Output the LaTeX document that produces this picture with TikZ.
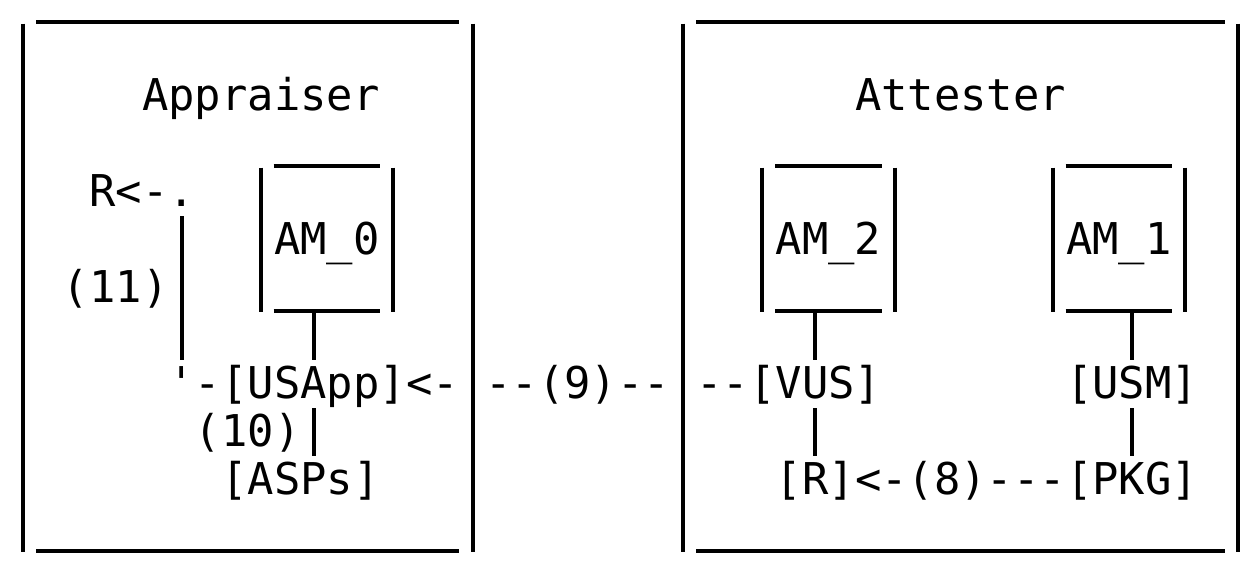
\documentclass[tikz,border=0pt]{standalone}
\usepackage{fontspec}
\setmonofont{DejaVu Sans Mono}
\usetikzlibrary{calc}

\newcommand{\asciisize}{\fontsize{21.9pt}{24pt}\selectfont}
\tikzset{
	txt/.style={font=\asciisize\ttfamily, inner sep=0pt, text height=17pt, text depth=3pt, minimum height=24pt},
	ambox/.style={txt, minimum width=66pt, minimum height=72pt},
	outerbox/.style={inner sep=0pt, minimum width=#1, minimum height=264pt},
	bar/.style={line width=2pt},
	under/.style={line width=1.8pt},
}
\newcommand{\asciibox}[1]{%
	\draw[bar] (#1.north west) -- (#1.south west);
	\draw[bar] (#1.north east) -- (#1.south east);
	\draw[under] ($(#1.north west)+(0.5,-0.031)$) -- ($(#1.north east)+(-0.5,-0.031)$);
	\draw[under] ($(#1.south west)+(0.5,-0.031)$) -- ($(#1.south east)+(-0.5,-0.031)$);
}

\begin{document}
\begin{tikzpicture}[x=13.2pt, y=-24pt]
	\useasboundingbox (-0.8826,0) rectangle (46.466,11.896);
	
	\node[outerbox=224.4pt] (appbox) at (8.5,6) {};
	\node[outerbox=277.2pt] (attbox) at (35.5,6) {};
	\asciibox{appbox}
	\asciibox{attbox}
	
	\node[txt] (appraiser) at (9,2) {Appraiser};
	\node[txt] (attester) at (35.5,2) {Attester};
	
	\node[ambox] (am0) at (11.5,5) {AM\_0};
	\node[ambox] (am2) at (30.5,5) {AM\_2};
	\node[ambox] (am1) at (41.5,5) {AM\_1};
	\asciibox{am0}
	\asciibox{am2}
	\asciibox{am1}
	
	\node[txt] (rapp) at (3,4) {R};
	\node[txt] (a11) at (5,4) {<-.};
	\node[txt] (l11) at (3.5,6) {(11)};
	\node[txt] (bend) at (6.5,8) {'-};
	\node[txt] (usapp) at (11,8) {[USApp]};
	\node[txt] (a9) at (15.5,8) {<-};
	\node[txt] (l9) at (21,8) {--(9)--};
	\node[txt] (d9) at (26.5,8) {--};
	\node[txt] (vus) at (30,8) {[VUS]};
	\node[txt] (usm) at (42,8) {[USM]};
	\node[txt] (l10) at (8.5,9) {(10)};
	\node[txt] (asps) at (10.5,10) {[ASPs]};
	\node[txt] (rr) at (30,10) {[R]};
	\node[txt] (l8) at (35.5,10) {<-(8)---};
	\node[txt] (pkg) at (42,10) {[PKG]};
	
	\coordinate (c11) at (6,4.5);
	\draw[bar] (c11) -- (c11 |- bend.north);
	\draw[bar] (am0.south -| usapp) -- (usapp.north);
	\draw[bar] (usapp.south) -- (usapp.south |- asps.north);
	\draw[bar] (am2.south -| vus) -- (vus.north);
	\draw[bar] (vus.south) -- (rr.north);
	\draw[bar] (am1.south -| usm) -- (usm.north);
	\draw[bar] (usm.south) -- (pkg.north);
\end{tikzpicture}
\end{document}
